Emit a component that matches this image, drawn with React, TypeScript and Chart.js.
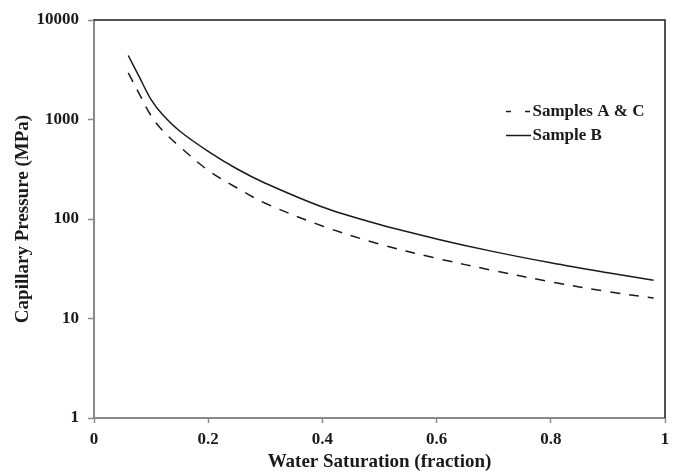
import React, { useEffect, useRef } from "react";
import { Chart, registerables } from "chart.js";

Chart.register(...registerables);

// Water saturation (fraction) sample positions
const waterSaturation = [0.06, 0.08, 0.1, 0.12, 0.15, 0.2, 0.25, 0.3, 0.4, 0.5, 0.6, 0.7, 0.8, 0.9, 0.98];
// Capillary pressure (MPa)
const samplesAC = [2940, 1780, 1090, 776, 535, 308, 206, 144, 85, 56, 40.3, 30.3, 23.4, 18.6, 16.1];
const sampleB = [4400, 2630, 1585, 1122, 767, 479, 320, 229, 132, 88, 63.1, 47.0, 36.3, 28.8, 24.2];

const seriesLabels = ["Samples A & C", "Sample B"];
const yTickValues = [1, 10, 100, 1000, 10000];
const xTickValues = [0, 0.2, 0.4, 0.6, 0.8, 1];

const FONT = "'Liberation Serif', 'Times New Roman', serif";
const AXIS_GRAY = "#8a8a8a";
const INK = "#1a1a1a";

const frameAndLegend = {
  id: "frameAndLegend",
  afterDraw(chart: any) {
    const { ctx, chartArea } = chart;
    const { left, right, top, bottom } = chartArea;
    ctx.save();
    // top and right frame
    ctx.strokeStyle = INK;
    ctx.lineWidth = 1.5;
    ctx.beginPath();
    ctx.moveTo(left, top);
    ctx.lineTo(right, top);
    ctx.lineTo(right, bottom);
    ctx.stroke();

    // legend
    const rows = [top + 91.5, top + 115.5];
    chart.data.datasets.forEach((ds: any, i: number) => {
      const y = rows[i];
      const x0 = right - 159;
      const x1 = right - 134;
      ctx.strokeStyle = ds.borderColor;
      ctx.lineWidth = ds.borderWidth;
      ctx.setLineDash(ds.borderDash && ds.borderDash.length ? [5, 14] : []);
      ctx.beginPath();
      ctx.moveTo(x0, y);
      ctx.lineTo(x1, y);
      ctx.stroke();
      ctx.setLineDash([]);
      ctx.fillStyle = INK;
      ctx.font = `bold 17px ${FONT}`;
      ctx.textAlign = "left";
      ctx.textBaseline = "middle";
      ctx.fillText(ds.label, x1 + 1.5, y);
    });
    ctx.restore();
  },
};

export default function App() {
  const canvasRef = useRef<HTMLCanvasElement | null>(null);

  useEffect(() => {
    if (!canvasRef.current) return;
    const chart = new Chart(canvasRef.current, {
      type: "line",
      data: {
        datasets: [
          {
            label: seriesLabels[0],
            data: waterSaturation.map((x, i) => ({ x, y: samplesAC[i] })),
            borderColor: INK,
            borderWidth: 1.5,
            borderDash: [10, 9],
            pointRadius: 0,
            tension: 0.35,
            fill: false,
          },
          {
            label: seriesLabels[1],
            data: waterSaturation.map((x, i) => ({ x, y: sampleB[i] })),
            borderColor: INK,
            borderWidth: 1.5,
            pointRadius: 0,
            tension: 0.35,
            fill: false,
          },
        ],
      },
      options: {
        animation: false,
        responsive: false,
        layout: { padding: { top: 20, right: 11, bottom: 0, left: 0 } },
        plugins: {
          legend: { display: false },
          tooltip: { enabled: false },
        },
        scales: {
          x: {
            type: "linear",
            min: 0,
            max: 1,
            afterBuildTicks: (axis: any) => {
              axis.ticks = xTickValues.map((v) => ({ value: v }));
            },
            afterFit: (scale: any) => {
              scale.height = 56;
            },
            grid: {
              drawOnChartArea: false,
              drawTicks: true,
              tickLength: 5,
              tickWidth: 1.5,
              tickColor: AXIS_GRAY,
            },
            border: { display: true, color: AXIS_GRAY, width: 2 },
            ticks: {
              padding: 6,
              color: INK,
              font: { family: FONT, size: 17, weight: "bold" },
              maxRotation: 0,
              callback: (v: any) => String(v),
            },
            title: {
              display: true,
              text: "Water Saturation (fraction)",
              color: INK,
              font: { family: FONT, size: 19, weight: "bold" },
              padding: { top: 0, bottom: 1 },
            },
          },
          y: {
            type: "logarithmic",
            min: 1,
            max: 10000,
            afterBuildTicks: (axis: any) => {
              axis.ticks = yTickValues.map((v) => ({ value: v }));
            },
            afterFit: (scale: any) => {
              scale.width = 94;
            },
            grid: {
              drawOnChartArea: false,
              drawTicks: true,
              tickLength: 6,
              tickWidth: 1.5,
              tickColor: AXIS_GRAY,
            },
            border: { display: true, color: AXIS_GRAY, width: 2 },
            ticks: {
              padding: 9,
              color: INK,
              font: { family: FONT, size: 17, weight: "bold" },
              callback: (v: any) => String(v),
            },
            title: {
              display: true,
              text: "Capillary Pressure (MPa)",
              color: INK,
              font: { family: FONT, size: 19, weight: "bold" },
              padding: { top: 12, bottom: 0 },
            },
          },
        },
      },
      plugins: [frameAndLegend],
    } as any);
    return () => chart.destroy();
  }, []);

  return (
    <div style={{ position: "absolute", left: 0, top: 0, width: 676, height: 474 }}>
      <canvas ref={canvasRef} width={676} height={474} style={{ display: "block" }} />
    </div>
  );
}
